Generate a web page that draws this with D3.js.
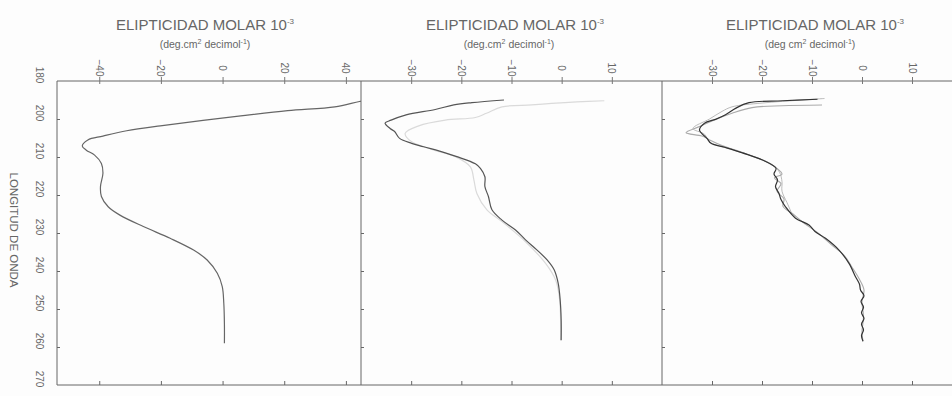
<!DOCTYPE html>
<html>
<head>
<meta charset="utf-8">
<script src="https://cdn.jsdelivr.net/npm/d3@7"></script>
<style>
  html, body { margin: 0; padding: 0; background: #fdfdfd; }
  svg { display: block; }
  text { font-family: "Liberation Sans", Arial, sans-serif; fill: #666; }
</style>
</head>
<body>
<script>
// Wavelength axis (nm), shared by the three panels
const wavelengthDomain = [190, 270];
const wavelengthTicks = [190, 200, 210, 220, 230, 240, 250, 260, 270];
const wavelengthLabels = ["180", "200", "210", "220", "230", "240", "250", "260", "270"];

// Ellipticity axes (10^-3 deg·cm²·decimol⁻¹)
const panel1Domain = [-53.7, 44.9];
const panel1Ticks = [-40, -20, 0, 20, 40];
const panel2Domain = [-40, 20];
const panel2Ticks = [-30, -20, -10, 0, 10];
const panel3Domain = [-40, 20];
const panel3Ticks = [-30, -20, -10, 0, 10];

// Spectra: [wavelength, ellipticity]
const panel1Spectrum = [
  [194.9, 48], [195.4, 44.4], [196.8, 36.4], [197.8, 21.1], [199.2, 5.9], [201.8, -20.2],
  [203.1, -31.1], [204.5, -38.8], [205.5, -43.7], [207.1, -45.5], [208.2, -44.2],
  [209.5, -41.5], [211.7, -39.3], [214.3, -38.8], [217.8, -39.6], [220.4, -39.3],
  [223.1, -37.1], [225.3, -33.3], [228.3, -25.7], [231.4, -17.0], [234.5, -9.4],
  [237.1, -5.0], [240.6, -1.7], [244.1, -0.1], [248.5, 0.4], [254.0, 0.6], [259.0, 0.6]
];

const panel2SpectrumA = [
  [195.0, -11.5], [195.7, -17.9], [196.3, -21.5], [197.5, -25.2], [198.9, -31.0],
  [200.3, -34.0], [201.1, -35.2], [202.5, -34.2], [203.3, -33.3], [205.1, -32.3],
  [206.4, -29.9], [207.3, -27.5], [208.9, -23.2], [209.9, -20.9], [211.8, -17.2],
  [213.0, -16.2], [215.2, -15.3], [217.8, -15.3], [220.4, -14.6], [223.9, -13.9],
  [226.6, -11.9], [229.2, -9.2], [231.8, -7.2], [234.5, -4.9], [237.1, -2.9],
  [239.7, -1.5], [243.2, -0.7], [247.6, -0.3], [253.0, -0.1], [258.2, -0.1]
];
const panel2SpectrumB = [
  [195.2, 8.5], [195.5, 3.0], [195.9, -2.0], [196.3, -6.0], [196.8, -11.9], [198.5, -15.0],
  [199.6, -17.2], [200.3, -23.2], [201.8, -28.5], [203.8, -31.2], [206.0, -29.9],
  [208.0, -25.9], [209.9, -21.2], [212.6, -18.2], [216.0, -17.5], [219.6, -16.9],
  [223.9, -14.9], [227.0, -11.9], [232.3, -7.2], [238.0, -3.2], [242.4, -1.2],
  [247.6, -0.4], [258.2, -0.2]
];

const panel3SpectrumA = [
  [194.8, -8.9], [195.2, -15.9], [195.7, -22.6], [197.2, -25.3], [198.9, -27.3],
  [200.1, -29.3], [201.1, -31.5], [202.9, -32.5], [205.1, -31.0], [206.4, -30.2],
  [207.5, -27.3], [208.9, -23.9], [210.8, -19.9], [213.0, -17.2], [214.5, -17.6],
  [216.0, -16.9], [217.8, -17.3], [219.6, -16.6], [221.2, -16.2], [223.1, -15.3],
  [226.1, -13.3], [227.9, -10.6], [229.6, -9.4], [231.4, -7.3], [234.5, -4.6],
  [238.0, -2.6], [241.5, -1.3], [243.5, -0.5], [245.0, -0.3], [246.5, 0.4],
  [248.0, -0.2], [249.5, 0.3], [251.0, -0.1], [252.5, 0.4], [254.0, -0.1],
  [255.5, 0.3], [257.0, -0.1], [258.5, 0.2]
];
const panel3SpectrumB = [
  [196.3, -8.0], [196.5, -16.0], [197.0, -22.0], [198.5, -26.0], [200.5, -30.0],
  [202.0, -32.5], [203.6, -35.2], [204.5, -32.0], [205.5, -30.5], [207.0, -28.0],
  [209.0, -23.5], [211.0, -19.5], [213.0, -17.0], [214.5, -16.0], [215.5, -17.5],
  [217.0, -16.2], [219.0, -17.0], [221.0, -15.6], [223.0, -15.8], [225.0, -13.8],
  [227.5, -11.5], [230.0, -8.8], [233.0, -6.2], [236.0, -3.5], [239.0, -2.0],
  [242.0, -0.6], [245.0, 0.4], [248.0, 0.0], [252.0, 0.3], [256.0, 0.0], [258.5, 0.2]
];
const panel3SpectrumC = [
  [194.6, -7.5], [195.0, -12.0], [195.8, -20.0], [196.8, -26.0], [198.0, -28.0],
  [200.0, -30.5], [202.5, -33.8], [204.0, -31.5], [206.0, -30.5], [208.0, -26.0],
  [210.0, -21.5], [212.0, -18.0], [214.0, -16.5], [216.5, -16.0], [219.0, -16.0],
  [222.0, -15.0], [225.0, -14.0]
];

const panelTitle = "ELIPTICIDAD MOLAR 10";
const panelTitleExp = "-3";
const yAxisTitle = "LONGITUD DE ONDA";

const W = 952, H = 396;
const plotTop = 81, plotBottom = 385;

const svg = d3.select("body").append("svg").attr("width", W).attr("height", H);
svg.append("rect").attr("width", W).attr("height", H).attr("fill", "#fdfdfd");

const y = d3.scaleLinear().domain(wavelengthDomain).range([plotTop, plotBottom]);

const panels = [
  { range: [57, 361], domain: panel1Domain, ticks: panel1Ticks, titleX: 205, subX: 205,
    sub: ["(deg.cm", "2", " decimol", "-1", ")"],
    series: [{ data: panel1Spectrum, color: "#666", width: 1.2 }] },
  { range: [361, 662], domain: panel2Domain, ticks: panel2Ticks, titleX: 515, subX: 509,
    sub: ["(deg.cm", "2", " decimol", "-1", ")"],
    series: [{ data: panel2SpectrumB, color: "#dadada", width: 1.2 },
             { data: panel2SpectrumA, color: "#555", width: 1.2 }] },
  { range: [662, 962], domain: panel3Domain, ticks: panel3Ticks, titleX: 815, subX: 810,
    sub: ["(deg cm", "2", " decimol", "-1", ")"],
    series: [{ data: panel3SpectrumC, color: "#bbb", width: 1 },
             { data: panel3SpectrumB, color: "#aaa", width: 1.1 },
             { data: panel3SpectrumA, color: "#333", width: 1.2 }] }
];

const frame = svg.append("g").attr("stroke", "#666").attr("stroke-width", 1).attr("fill", "none");
frame.append("line").attr("x1", 57).attr("x2", W).attr("y1", plotTop).attr("y2", plotTop);
frame.append("line").attr("x1", 57).attr("x2", W).attr("y1", plotBottom).attr("y2", plotBottom);

panels.forEach((p, i) => {
  const x = d3.scaleLinear().domain(p.domain).range(p.range);
  const g = svg.append("g");

  // left border with small inward wavelength ticks
  const left = g.append("g").attr("transform", `translate(${p.range[0]},0)`)
    .call(d3.axisRight(y).tickValues(wavelengthTicks.slice(1, -1)).tickSize(3).tickFormat(""));
  left.select(".domain").attr("stroke", "#666").attr("d", `M0,${plotTop}V${plotBottom}`);
  left.selectAll(".tick line").attr("stroke", "#666");

  // top axis: ticks crossing the border, rotated labels
  const topAxis = g.append("g").attr("transform", `translate(0,${plotTop})`)
    .call(d3.axisTop(x).tickValues(p.ticks).tickSize(3).tickFormat(""));
  topAxis.select(".domain").remove();
  topAxis.selectAll(".tick line").attr("stroke", "#777").attr("y2", 3).attr("y1", -4);
  g.selectAll(".tlabel").data(p.ticks).join("text")
    .attr("transform", d => `translate(${x(d)},68) rotate(90)`)
    .attr("text-anchor", "middle").attr("dy", "0.35em")
    .attr("font-size", 10).text(d => d3.format("d")(d));

  // bottom axis: inward ticks
  const botAxis = g.append("g").attr("transform", `translate(0,${plotBottom})`)
    .call(d3.axisTop(x).tickValues(p.ticks).tickSize(4).tickFormat(""));
  botAxis.select(".domain").remove();
  botAxis.selectAll(".tick line").attr("stroke", "#666");

  // titles
  const t = g.append("text").attr("x", p.titleX).attr("y", 30)
    .attr("text-anchor", "middle").attr("font-size", 15).attr("fill", "#666");
  t.append("tspan").text(panelTitle);
  t.append("tspan").attr("dy", -6).attr("font-size", 8).text(panelTitleExp);

  const s = g.append("text").attr("x", p.subX).attr("y", 48)
    .attr("text-anchor", "middle").attr("font-size", 10.5).attr("fill", "#666");
  s.append("tspan").text(p.sub[0]);
  s.append("tspan").attr("dy", -4).attr("font-size", 7).text(p.sub[1]);
  s.append("tspan").attr("dy", 4).text(p.sub[2]);
  s.append("tspan").attr("dy", -4).attr("font-size", 7).text(p.sub[3]);
  s.append("tspan").attr("dy", 4).text(p.sub[4]);

  // spectra, clipped to the panel
  const clipId = `clip${i}`;
  svg.append("clipPath").attr("id", clipId).append("rect")
    .attr("x", p.range[0]).attr("y", plotTop)
    .attr("width", Math.min(p.range[1], W) - p.range[0]).attr("height", plotBottom - plotTop);
  const line = d3.line().x(d => x(d[1])).y(d => y(d[0])).curve(d3.curveCatmullRom.alpha(0.5));
  g.append("g").attr("clip-path", `url(#${clipId})`)
    .selectAll("path").data(p.series).join("path")
    .attr("d", d => line(d.data)).attr("fill", "none")
    .attr("stroke", d => d.color).attr("stroke-width", d => d.width)
    .attr("stroke-linejoin", "round");
});

// wavelength labels on the far left
svg.append("g").selectAll("text").data(wavelengthTicks).join("text")
  .attr("transform", d => `translate(39,${y(d) - 6}) rotate(90)`)
  .attr("text-anchor", "middle").attr("dy", "0.35em").attr("font-size", 10)
  .text((d, i) => wavelengthLabels[i]);

svg.append("text").attr("transform", "translate(14,230) rotate(90)")
  .attr("text-anchor", "middle").attr("dy", "0.35em").attr("font-size", 11.5)
  .text(yAxisTitle);
</script>
</body>
</html>
